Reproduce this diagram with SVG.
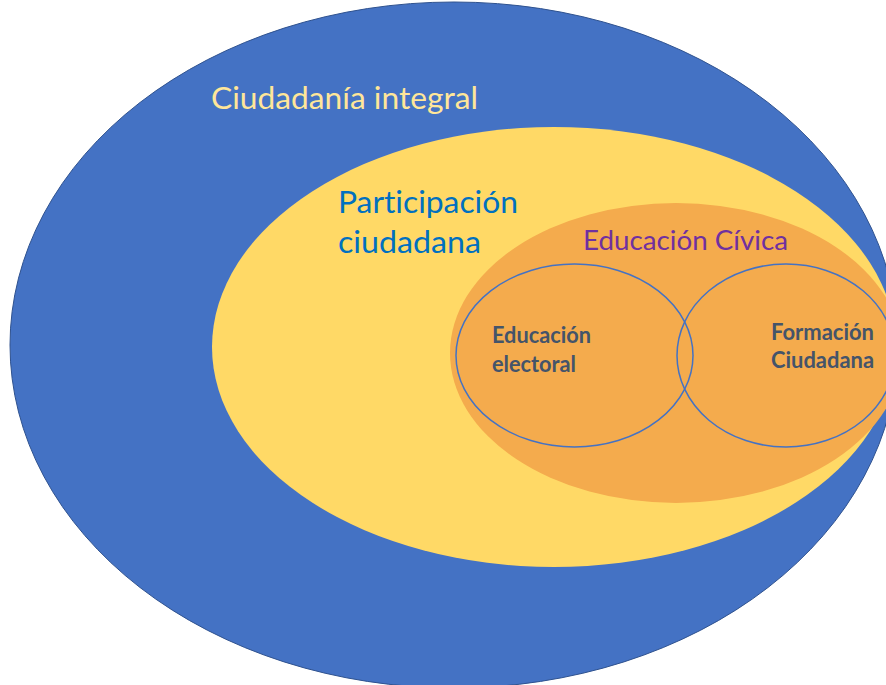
<svg xmlns="http://www.w3.org/2000/svg" width="886" height="685" viewBox="0 0 886 685">
  <style>
    .lbl { font-family: Lato, "Open Sans", "Liberation Sans", sans-serif; font-variant-ligatures: none; }
    .big { font-size: 30px; }
    .sub { font-size: 22px; font-weight: bold; fill: #44546A; }
    .venn { fill: none; stroke: #4472C4; stroke-width: 1.5; }
  </style>
  <rect width="886" height="685" fill="#FFFFFF"/>
  <g id="ciudadania-integral">
    <ellipse cx="454" cy="345" rx="444" ry="343" fill="#4472C4" stroke="#2F528F" stroke-width="1"/>
    <text class="lbl big" x="211" y="109" fill="#FFE699" textLength="267" lengthAdjust="spacingAndGlyphs">Ciudadanía integral</text>
  </g>
  <g id="participacion-ciudadana">
    <ellipse cx="554" cy="347" rx="342" ry="220" fill="#FFD966"/>
    <text class="lbl big" x="338" y="213" fill="#0070C0" textLength="180" lengthAdjust="spacingAndGlyphs">Participación</text>
    <text class="lbl big" x="338" y="253" fill="#0070C0" textLength="143" lengthAdjust="spacingAndGlyphs">ciudadana</text>
  </g>
  <g id="educacion-civica">
    <ellipse cx="676" cy="353" rx="226" ry="150" fill="#F4AB4D"/>
    <text class="lbl" x="583" y="250" font-size="27" fill="#7030A0" textLength="205" lengthAdjust="spacingAndGlyphs">Educación Cívica</text>
  </g>
  <g id="educacion-electoral">
    <ellipse class="venn" cx="574.5" cy="355.5" rx="118.5" ry="91.5"/>
    <text class="lbl sub" x="492" y="343" textLength="99" lengthAdjust="spacingAndGlyphs">Educación</text>
    <text class="lbl sub" x="492" y="372" textLength="84" lengthAdjust="spacingAndGlyphs">electoral</text>
  </g>
  <g id="formacion-ciudadana">
    <ellipse class="venn" cx="786" cy="355.5" rx="109" ry="91.5"/>
    <text class="lbl sub" x="771" y="340" textLength="103" lengthAdjust="spacingAndGlyphs">Formación</text>
    <text class="lbl sub" x="771" y="368" textLength="103" lengthAdjust="spacingAndGlyphs">Ciudadana</text>
  </g>
  <g id="connectors"/>
</svg>
